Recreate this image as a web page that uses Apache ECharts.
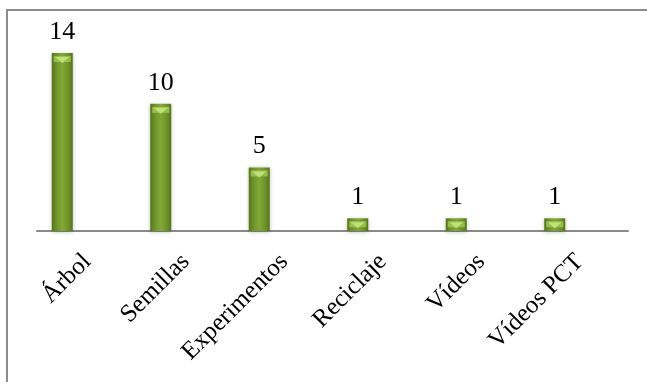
<!DOCTYPE html>
<html>
<head>
<meta charset="utf-8">
<script src="https://cdn.jsdelivr.net/npm/echarts@6/dist/echarts.min.js"></script>
<style>
  html, body { margin: 0; padding: 0; background: #ffffff; }
  #chart { width: 647px; height: 382px; }
</style>
</head>
<body>
<div id="chart"></div>
<script>
// Activity categories and how many times each appeared
const categories = ['Árbol', 'Semillas', 'Experimentos', 'Reciclaje', 'Vídeos', 'Vídeos PCT'];
const counts = [14, 10, 5, 1, 1, 1];

const SERIF = "'Liberation Serif', 'Times New Roman', serif";
const chart = echarts.init(document.getElementById('chart'), null, { renderer: 'canvas' });

const barFill = new echarts.graphic.LinearGradient(0, 0, 1, 0, [
  { offset: 0, color: '#55741a' },
  { offset: 0.2, color: '#6c9126' },
  { offset: 0.5, color: '#82a838' },
  { offset: 0.8, color: '#6c9126' },
  { offset: 1, color: '#55741a' }
]);

chart.setOption({
  animation: false,
  backgroundColor: '#ffffff',
  graphic: [{
    type: 'rect',
    shape: { x: 7, y: 10, width: 700, height: 420 },
    style: { fill: 'none', stroke: '#8c8c8c', lineWidth: 2 },
    z: 0
  }],
  grid: [
    // axis line and category slots
    { left: 37, right: 19, top: 53, bottom: 151 },
    // bars sit left of each category slot
    { left: 13, right: 43, top: 53, bottom: 151 },
    // rotated labels, nudged right of the slot centre
    { left: 38, right: 18, top: 53, bottom: 151 }
  ],
  xAxis: [{
    gridIndex: 0,
    type: 'category',
    data: categories,
    axisLine: { lineStyle: { color: '#8a8a8a', width: 2 } },
    axisTick: { show: false },
    axisLabel: { show: false }
  }, {
    gridIndex: 1,
    type: 'category',
    data: categories,
    show: false
  }, {
    gridIndex: 2,
    type: 'category',
    data: categories,
    axisLine: { show: false },
    axisTick: { show: false },
    axisLabel: {
      rotate: 45,
      interval: 0,
      margin: 27,
      color: '#000000',
      fontFamily: SERIF,
      fontSize: 25
    }
  }],
  yAxis: [0, 1, 2].map(function (i) {
    return { gridIndex: i, type: 'value', min: 0, max: 14, show: false, splitLine: { show: false } };
  }),
  series: [{
    type: 'bar',
    xAxisIndex: 1,
    yAxisIndex: 1,
    data: counts,
    barWidth: 21,
    itemStyle: {
      color: barFill,
      shadowColor: 'rgba(0,0,0,0.25)',
      shadowBlur: 4,
      shadowOffsetY: 1
    },
    label: {
      show: true,
      position: 'top',
      distance: 8,
      color: '#000000',
      fontFamily: SERIF,
      fontSize: 26
    },
    z: 2
  }, {
    // light cap band on each bar's top
    type: 'pictorialBar',
    xAxisIndex: 1,
    yAxisIndex: 1,
    data: counts,
    symbol: 'rect',
    symbolSize: [17, 6],
    symbolPosition: 'end',
    symbolOffset: [0, 3],
    itemStyle: { color: '#9fc654', opacity: 0.85 },
    z: 3
  }, {
    // chevron highlight inside the cap
    type: 'pictorialBar',
    xAxisIndex: 1,
    yAxisIndex: 1,
    data: counts,
    symbol: 'triangle',
    symbolRotate: 180,
    symbolSize: [14, 6],
    symbolPosition: 'end',
    symbolOffset: [0, 4],
    itemStyle: { color: '#c2e27c', opacity: 0.95 },
    z: 4
  }]
});
</script>
</body>
</html>
